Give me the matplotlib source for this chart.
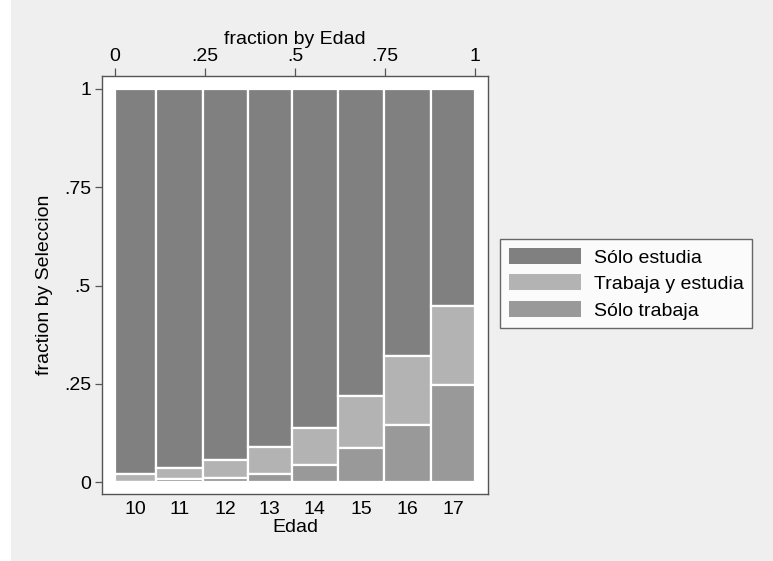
import numpy as np
import matplotlib
matplotlib.use("Agg")
import matplotlib.pyplot as plt
from matplotlib.patches import Rectangle

plt.rcParams['font.family'] = ['Liberation Sans', 'DejaVu Sans']

edades = ['10', '11', '12', '13', '14', '15', '16', '17']
frac_edad = [0.113, 0.131, 0.124, 0.123, 0.127, 0.130, 0.130, 0.122]
solo_trabaja = [0.001, 0.007, 0.012, 0.022, 0.043, 0.087, 0.146, 0.248]
trabaja_estudia = [0.021, 0.030, 0.045, 0.068, 0.096, 0.132, 0.174, 0.199]
solo_estudia = [1 - a - b for a, b in zip(solo_trabaja, trabaja_estudia)]

colors = {'Sólo estudia': '#808080', 'Trabaja y estudia': '#b3b3b3', 'Sólo trabaja': '#999999'}

fs = 14
bg = '#efefef'
fig = plt.figure(figsize=(7.73, 5.61), dpi=100, facecolor=bg)
fig.patches.append(Rectangle((0, 0), 11 / 773, 1, transform=fig.transFigure,
                             facecolor='white', edgecolor='none', zorder=0))
ax = fig.add_axes([0.132, 0.1194, 0.4994, 0.7451])
ax.set_facecolor('white')

w = np.array(frac_edad)
left = np.concatenate([[0], np.cumsum(w)[:-1]])
st = np.array(solo_trabaja)
te = np.array(trabaja_estudia)
se = np.array(solo_estudia)

ax.bar(left, se, width=w, bottom=st + te, align='edge', color=colors['Sólo estudia'],
       edgecolor='white', linewidth=1.6, label='Sólo estudia')
ax.bar(left, te, width=w, bottom=st, align='edge', color=colors['Trabaja y estudia'],
       edgecolor='white', linewidth=1.6, label='Trabaja y estudia')
ax.bar(left, st, width=w, align='edge', color=colors['Sólo trabaja'],
       edgecolor='white', linewidth=1.6, label='Sólo trabaja')

ax.set_xlim(-0.036, 1.036)
ax.set_ylim(-0.030, 1.033)

for s in ax.spines.values():
    s.set_color('#555555')
    s.set_linewidth(1.0)

yt = [0, 0.25, 0.5, 0.75, 1]
ylab = ['0', '.25', '.5', '.75', '1']
ax.set_yticks(yt)
ax.set_yticklabels(ylab)
ax.tick_params(axis='y', length=5, width=0.9, color='#555555', labelsize=fs, pad=3)
ax.set_ylabel('fraction by Seleccion', fontsize=fs, labelpad=8)

ax.set_xticks(left + w / 2)
ax.set_xticklabels(edades)
ax.tick_params(axis='x', length=0, labelsize=fs, pad=5)
ax.set_xlabel('Edad', fontsize=fs, labelpad=1)

top = ax.secondary_xaxis('top')
top.set_xticks(yt)
top.set_xticklabels(ylab)
top.tick_params(length=6, width=0.9, color='#555555', labelsize=fs, pad=2)
top.set_xlabel('fraction by Edad', fontsize=fs, labelpad=3)
top.spines['top'].set_visible(False)

h, l = ax.get_legend_handles_labels()
leg = fig.legend(h, l, loc='upper left', bbox_to_anchor=(500 / 773, 1 - 239 / 561),
                 fontsize=fs, frameon=True, fancybox=False, edgecolor='#444444',
                 handlelength=3.7, handleheight=0.9, handletextpad=0.67,
                 borderpad=0.45, labelspacing=0.4, borderaxespad=0)
leg.get_frame().set_linewidth(1.0)
for p in leg.get_patches():
    p.set_edgecolor('none')

fig.savefig('out.png', dpi=100, facecolor=bg)
